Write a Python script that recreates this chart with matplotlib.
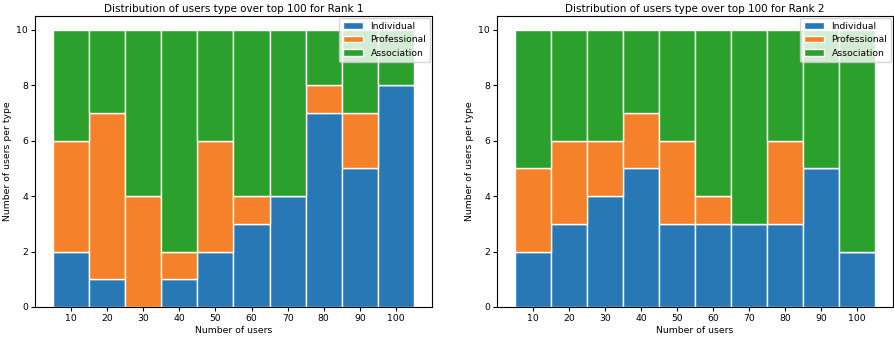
import matplotlib
matplotlib.use("Agg")
import matplotlib.pyplot as plt
import numpy as np

sizes = [10, 20, 30, 40, 50, 60, 70, 80, 90, 100]

rank1_individual = [2, 1, 0, 1, 2, 3, 4, 7, 5, 8]
rank1_professional = [4, 6, 4, 1, 4, 1, 0, 1, 2, 0]
rank1_association = [4, 3, 6, 8, 4, 6, 6, 2, 3, 2]

rank2_individual = [2, 3, 4, 5, 3, 3, 3, 3, 5, 2]
rank2_professional = [3, 3, 2, 2, 3, 1, 0, 3, 0, 0]
rank2_association = [5, 4, 4, 3, 4, 6, 7, 4, 5, 8]

plt.rcParams['font.size'] = 6.7

fig = plt.figure(figsize=(8.95, 3.38), dpi=100)
ax1 = fig.add_axes([35 / 895, 31 / 338, 397 / 895, 291 / 338])
ax2 = fig.add_axes([497 / 895, 31 / 338, 396 / 895, 291 / 338])


def draw(ax, ind, prof, assoc, rank):
    ind = np.array(ind)
    prof = np.array(prof)
    assoc = np.array(assoc)
    ax.bar(sizes, ind, width=10, edgecolor='white', color='#2878b5', label='Individual')
    ax.bar(sizes, prof, width=10, bottom=ind, edgecolor='white', color='#f5822a', label='Professional')
    ax.bar(sizes, assoc, width=10, bottom=ind + prof, edgecolor='white', color='#2ca02c', label='Association')
    ax.set_xticks(sizes)
    ax.tick_params(length=3, pad=2)
    ax.set_title("Distribution of users type over top 100 for Rank %d" % rank, fontsize=7.5, pad=3)
    ax.set_xlabel("Number of users", labelpad=2)
    ax.set_ylabel("Number of users per type", labelpad=3)
    ax.legend(loc='upper right', borderaxespad=0.2, handlelength=2.2)


draw(ax1, rank1_individual, rank1_professional, rank1_association, 1)
draw(ax2, rank2_individual, rank2_professional, rank2_association, 2)

fig.savefig("out.png", dpi=100)
